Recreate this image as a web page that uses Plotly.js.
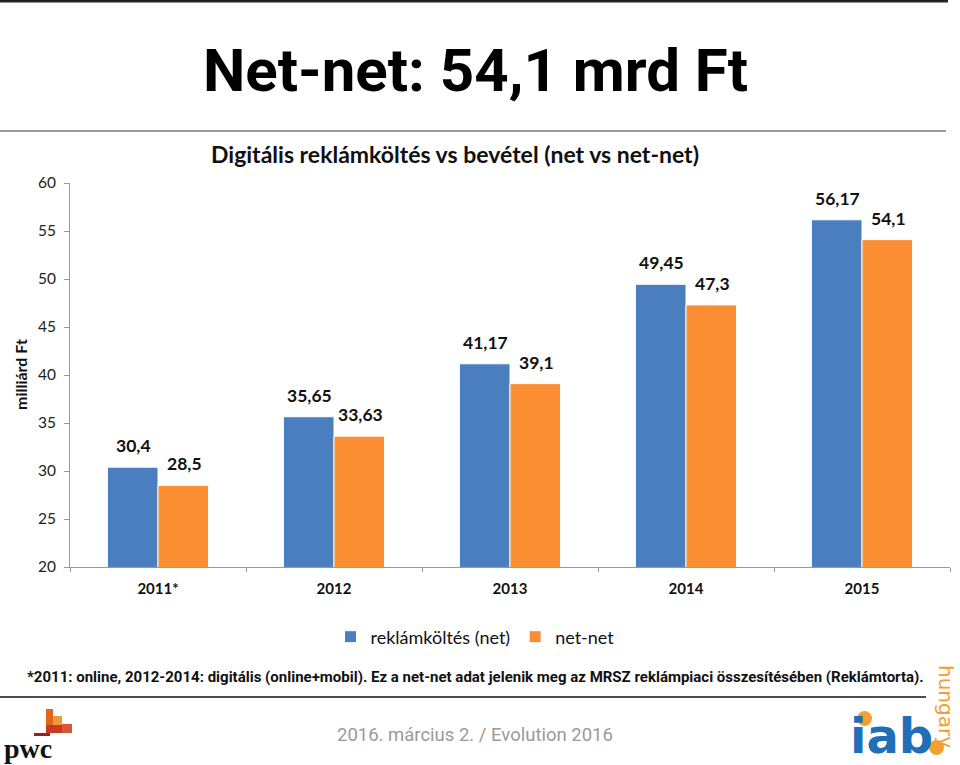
<!DOCTYPE html>
<html>
<head>
<meta charset="utf-8">
<script src="https://cdn.plot.ly/plotly-3.0.1.min.js"></script>
<style>html,body{margin:0;padding:0;background:#fff;}#chart{width:960px;height:765px;}</style>
</head>
<body>
<div id="chart"></div>
<script>
// ---- data ----
var years = ["2011*", "2012", "2013", "2014", "2015"];
var netValues = [30.4, 35.65, 41.17, 49.45, 56.17];
var netNetValues = [28.5, 33.63, 39.1, 47.3, 54.1];
var seriesNames = ["reklámköltés (net)", "net-net"];
var yTicks = [20, 25, 30, 35, 40, 45, 50, 55, 60];

var W = 960, H = 765;
function px(x) { return x / W; }
function py(y) { return 1 - y / H; }
function fmt(v) { return String(v).replace('.', ','); }

var calibri = "Lato, 'Open Sans', sans-serif";
var narrow = "Roboto, 'Liberation Sans', sans-serif";

var traces = [
  {type: "bar", name: seriesNames[0], x: years, y: netValues,
   marker: {color: "#4a7ebf", line: {color: "#ffffff", width: 1}}, hoverinfo: "skip"},
  {type: "bar", name: seriesNames[1], x: years, y: netNetValues,
   marker: {color: "#fb8d33", line: {color: "#ffffff", width: 1}}, hoverinfo: "skip"}
];

var annotations = [];
years.forEach(function (c, i) {
  annotations.push({x: i, y: netValues[i], xref: "x", yref: "y", text: "<b>" + fmt(netValues[i]) + "</b>",
    showarrow: false, xshift: -25, yshift: 9, yanchor: "bottom", font: {family: calibri, size: 17.5, color: "#111"}});
  annotations.push({x: i, y: netNetValues[i], xref: "x", yref: "y", text: "<b>" + fmt(netNetValues[i]) + "</b>",
    showarrow: false, xshift: 26, yshift: 9, yanchor: "bottom", font: {family: calibri, size: 17.5, color: "#111"}});
});

// slide texts
annotations.push({xref: "paper", yref: "paper", x: px(475), y: py(70), text: "<b>Net-net: 54,1 mrd Ft</b>",
  showarrow: false, xanchor: "center", yanchor: "middle", font: {family: narrow, size: 60, color: "#000"}});
annotations.push({xref: "paper", yref: "paper", x: px(475), y: py(677),
  text: "<b>*2011: online, 2012-2014: digitális (online+mobil). Ez a net-net adat jelenik meg az MRSZ reklámpiaci összesítésében (Reklámtorta).</b>",
  showarrow: false, xanchor: "center", yanchor: "middle", font: {family: narrow, size: 15, color: "#111"}});
annotations.push({xref: "paper", yref: "paper", x: px(475), y: py(735), text: "2016. március 2. / Evolution 2016",
  showarrow: false, xanchor: "center", yanchor: "middle", font: {family: narrow, size: 18.5, color: "#9a9a9a"}});
annotations.push({xref: "paper", yref: "paper", x: px(20), y: py(375), text: "<b>milliárd Ft</b>", textangle: -90,
  showarrow: false, xanchor: "center", yanchor: "middle", font: {family: calibri, size: 16, color: "#111"}});
// logos (text approximations)
annotations.push({xref: "paper", yref: "paper", x: px(2), y: py(748), text: "<b>pwc</b>",
  showarrow: false, xanchor: "left", yanchor: "middle", font: {family: "'Liberation Serif', serif", size: 28, color: "#111"}});
annotations.push({xref: "paper", yref: "paper", x: px(891), y: py(736), text: "<b>iab</b>",
  showarrow: false, xanchor: "center", yanchor: "middle", font: {family: "'DejaVu Sans', sans-serif", size: 48, color: "#1d6fb8"}});
annotations.push({xref: "paper", yref: "paper", x: px(946), y: py(706), text: "hungary", textangle: 90,
  showarrow: false, xanchor: "center", yanchor: "middle", font: {family: "'DejaVu Sans', sans-serif", size: 20, color: "#f2a031"}});

var shapes = [
  {type: "line", xref: "paper", yref: "paper", x0: 0, x1: px(948), y0: py(1), y1: py(1), line: {color: "#222", width: 3}},
  {type: "line", xref: "paper", yref: "paper", x0: 0, x1: px(946), y0: py(131), y1: py(131), line: {color: "#999", width: 2}},
  {type: "line", xref: "paper", yref: "paper", x0: 0, x1: px(926), y0: py(697), y1: py(697), line: {color: "#111", width: 1.5}},
  // pwc blocks
  {type: "rect", xref: "paper", yref: "paper", x0: px(46), x1: px(53), y0: py(733), y1: py(709), line: {width: 0}, fillcolor: "#e2651c"},
  {type: "rect", xref: "paper", yref: "paper", x0: px(53), x1: px(62), y0: py(733), y1: py(716), line: {width: 0}, fillcolor: "#eb9a3a"},
  {type: "rect", xref: "paper", yref: "paper", x0: px(62), x1: px(72), y0: py(733), y1: py(724), line: {width: 0}, fillcolor: "#d8543a"},
  {type: "rect", xref: "paper", yref: "paper", x0: px(46), x1: px(62), y0: py(733), y1: py(725), line: {width: 0}, fillcolor: "#c93a1e"},
  {type: "rect", xref: "paper", yref: "paper", x0: px(34), x1: px(50), y0: py(736), y1: py(733), line: {width: 0}, fillcolor: "#a01d22"},
  // iab dots
  {type: "circle", xref: "paper", yref: "paper", x0: px(857), x1: px(872), y0: py(726), y1: py(711), line: {width: 0}, fillcolor: "#f2a031"},
  {type: "circle", xref: "paper", yref: "paper", x0: px(929), x1: px(944), y0: py(755), y1: py(740), line: {width: 0}, fillcolor: "#f2a031"}
];

var layout = {
  width: W, height: H,
  margin: {l: 0, r: 0, t: 0, b: 0},
  paper_bgcolor: "#fff", plot_bgcolor: "#fff",
  showlegend: true,
  barmode: "group", bargap: 0.425, bargroupgap: 0,
  title: {text: "<b>Digitális reklámköltés vs bevétel (net vs net-net)</b>", x: px(455), xanchor: "center",
          y: py(155), yanchor: "middle", font: {family: calibri, size: 23, color: "#111"}},
  xaxis: {domain: [px(70), px(950)], type: "category", range: [-0.5, years.length - 0.5], showgrid: false, zeroline: false,
          showline: true, linecolor: "#999", linewidth: 1, ticks: "outside", tickson: "boundaries",
          ticklen: 4, tickcolor: "#999", tickangle: 0, ticklabelstandoff: 8,
          tickfont: {family: calibri, size: 15, color: "#111"},
          tickprefix: "<b>", ticksuffix: "</b>", fixedrange: true},
  yaxis: {domain: [py(567), py(183)], range: [20, 60], tickvals: yTicks, ticktext: yTicks.map(String),
          showgrid: false, zeroline: false, showline: true, linecolor: "#999", linewidth: 1,
          ticks: "outside", ticklen: 5, tickcolor: "#999", ticklabelstandoff: 5,
          tickfont: {family: calibri, size: 15.5, color: "#222"},
          fixedrange: true},
  legend: {orientation: "h", x: px(475), xanchor: "center", y: py(637), yanchor: "middle",
           font: {family: calibri, size: 18, color: "#111"}, traceorder: "normal"},
  annotations: annotations,
  shapes: shapes
};

Plotly.newPlot("chart", traces, layout, {displayModeBar: false, staticPlot: true});
</script>
</body>
</html>
